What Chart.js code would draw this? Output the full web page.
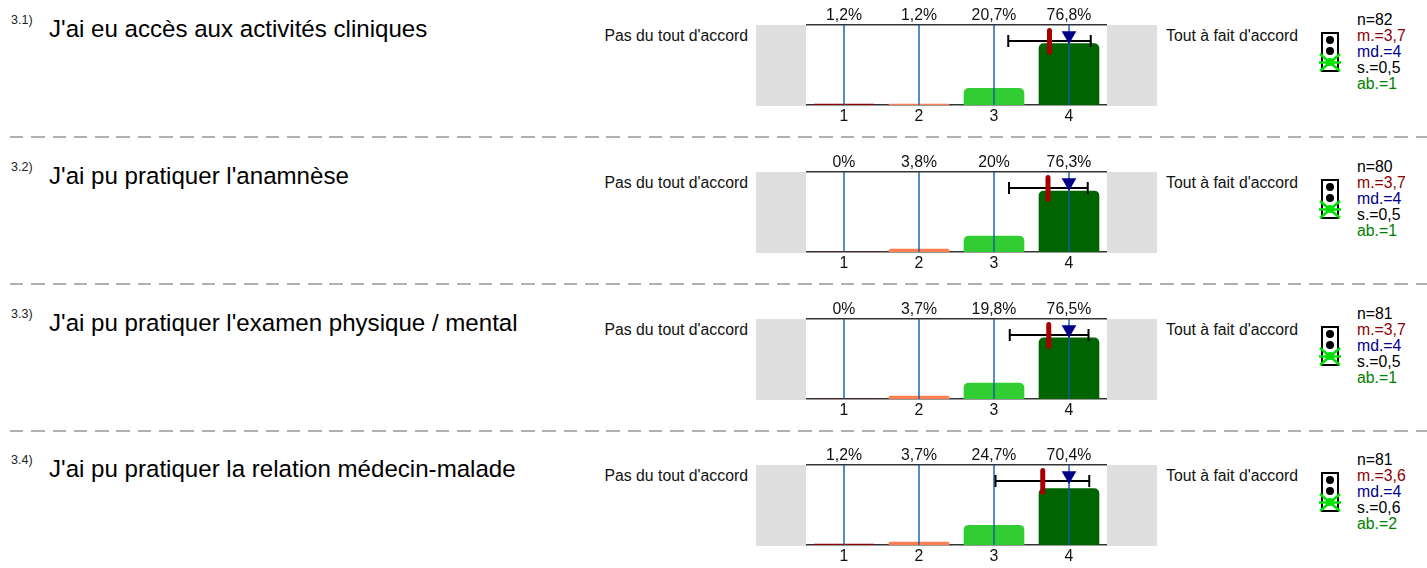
<!DOCTYPE html>
<html>
<head>
<meta charset="utf-8">
<script src="https://cdn.jsdelivr.net/npm/chart.js@4"></script>
<style>
html, body { margin: 0; padding: 0; background: #fff; overflow: hidden; }
body { position: relative; width: 1427px; height: 568px; font-family: "Liberation Sans", Arial, sans-serif; color: #000; }
.abs { position: absolute; white-space: nowrap; }
.band { position: absolute; background: #dfdfdf; width: 50px; height: 81px; }
.sep { position: absolute; left: 10px; right: 0; height: 2px;
  background: repeating-linear-gradient(to right, #b0b0b0 0 13.5px, transparent 13.5px 21.3px); }
.title { font-size: 24.1px; line-height: 28px; left: 49px; }
.num { font-size: 12.5px; line-height: 14px; left: 11px; color: #222; }
.scale { font-size: 15.8px; line-height: 18px; color: #111; }
.stat { font-size: 15.8px; line-height: 16px; left: 1357px; }
canvas { position: absolute; }
</style>
</head>
<body>
<script>
// question texts
const questionNums = ['3.1)', '3.2)', '3.3)', '3.4)'];
const questions = [
    "J'ai eu accès aux activités cliniques",
    "J'ai pu pratiquer l'anamnèse",
    "J'ai pu pratiquer l'examen physique / mental",
    "J'ai pu pratiquer la relation médecin-malade"
];
const leftLabel = "Pas du tout d'accord";
const rightLabel = "Tout à fait d'accord";

// answers
const xTicks = [1, 2, 3, 4];
const percents = [
    [1.2, 1.2, 20.7, 76.8],
    [0, 3.8, 20, 76.3],
    [0, 3.7, 19.8, 76.5],
    [1.2, 3.7, 24.7, 70.4]
];
const barColors = ['#8b0000', '#ff7f50', '#32cd32', '#006400'];

// markers
const meanPos = [3.74, 3.72, 3.73, 3.65];
const whiskerLow = [3.19, 3.2, 3.21, 3.02];
const whiskerHigh = [4.29, 4.25, 4.26, 4.27];
const medians = [4, 4, 4, 4];

// stats column
const nValues = ['82', '80', '81', '81'];
const mValues = ['3,7', '3,7', '3,7', '3,6'];
const mdValues = ['4', '4', '4', '4'];
const sValues = ['0,5', '0,5', '0,5', '0,6'];
const abValues = ['1', '1', '1', '2'];

// y of the top axis line of each row
const rowTops = [25, 172, 319, 465];
const sepTops = [136, 283, 430];

function addText(cls, text, left, top, color) {
    const d = document.createElement('div');
    d.className = 'abs ' + cls;
    d.textContent = text;
    if (left !== null) d.style.left = left + 'px';
    d.style.top = top + 'px';
    if (color) d.style.color = color;
    document.body.appendChild(d);
    return d;
}

function addLight(top) {
    const ns = 'http://www.w3.org/2000/svg';
    const svg = document.createElementNS(ns, 'svg');
    svg.setAttribute('width', 26);
    svg.setAttribute('height', 46);
    svg.style.cssText = 'position:absolute;left:1318px;top:' + top + 'px';
    svg.innerHTML =
        '<rect x="4" y="3" width="16" height="38" fill="#fff" stroke="#000" stroke-width="2"/>' +
        '<circle cx="12" cy="10" r="4" fill="#000"/><circle cx="12" cy="21" r="4" fill="#000"/>' +
        '<circle cx="12" cy="32" r="4" fill="#00e000"/>' +
        '<path d="M2 24 L22 41 M22 24 L2 41 M1 32.5 L23 32.5" stroke="#00e000" stroke-width="2.5" fill="none"/>';
    document.body.appendChild(svg);
}

sepTops.forEach(t => {
    const s = document.createElement('div');
    s.className = 'sep';
    s.style.top = t + 'px';
    document.body.appendChild(s);
});

function percentLabel(v) {
    return String(v).replace('.', ',') + '%';
}

questions.forEach((q, i) => {
    const top = rowTops[i];

    addText('num', questionNums[i], null, top - 12);
    addText('title', q, 49, top - 10);

    const l = addText('scale', leftLabel, null, top + 2);
    l.style.right = (1427 - 748) + 'px';
    addText('scale', rightLabel, 1166, top + 2);

    [756, 1107].forEach(x => {
        const b = document.createElement('div');
        b.className = 'band';
        b.style.left = x + 'px';
        b.style.top = top + 'px';
        document.body.appendChild(b);
    });

    addLight(top + 5);

    addText('stat', 'n=' + nValues[i], 1357, top - 13);
    addText('stat', 'm.=' + mValues[i], 1357, top + 3, '#8b0000');
    addText('stat', 'md.=' + mdValues[i], 1357, top + 19, '#00008b');
    addText('stat', 's.=' + sValues[i], 1357, top + 35);
    addText('stat', 'ab.=' + abValues[i], 1357, top + 51, '#008000');

    const canvas = document.createElement('canvas');
    canvas.style.left = '786px';
    canvas.style.top = (top - 25) + 'px';
    canvas.style.width = '340px';
    canvas.style.height = '130px';
    canvas.width = 340;
    canvas.height = 130;
    document.body.appendChild(canvas);

    new Chart(canvas.getContext('2d'), {
        data: {
            datasets: [
                {
                    type: 'scatter',
                    order: 1,
                    data: [{ x: medians[i], y: 87 }],
                    pointStyle: 'triangle',
                    rotation: 180,
                    pointRadius: 8.5,
                    backgroundColor: '#00008b',
                    borderColor: '#00008b',
                    borderWidth: 0
                },
                {
                    type: 'line',
                    order: 2,
                    data: [{ x: meanPos[i], y: 66 }, { x: meanPos[i], y: 93 }],
                    borderColor: '#a80000',
                    borderWidth: 5,
                    borderCapStyle: 'round',
                    pointRadius: 0
                },
                {
                    type: 'line',
                    order: 3,
                    data: [{ x: whiskerLow[i], y: 80 }, { x: whiskerHigh[i], y: 80 }],
                    borderColor: '#000',
                    borderWidth: 2,
                    pointStyle: 'line',
                    rotation: 90,
                    pointRadius: 6,
                    pointBorderColor: '#000',
                    pointBorderWidth: 2
                },
                {
                    // blue guide lines sit above the bars but under the markers
                    type: 'line',
                    order: 4,
                    data: xTicks.flatMap(t => [{ x: t, y: 0 }, { x: t, y: 100 }, { x: t, y: null }]),
                    borderColor: '#0f5cab',
                    borderWidth: 1.4,
                    pointRadius: 0,
                    spanGaps: false
                },
                {
                    type: 'bar',
                    order: 5,
                    data: xTicks.map((t, k) => ({ x: t, y: percents[i][k] })),
                    backgroundColor: barColors,
                    borderRadius: { topLeft: 5, topRight: 5 },
                    borderSkipped: 'bottom',
                    barThickness: 60
                }
            ]
        },
        options: {
            responsive: false,
            animation: false,
            devicePixelRatio: 1,
            layout: { padding: { left: 20.5, right: 19.5, top: 0, bottom: 0 } },
            plugins: { legend: { display: false }, tooltip: { enabled: false } },
            scales: {
                x: {
                    type: 'linear',
                    position: 'bottom',
                    offset: false,
                    min: 0.5,
                    max: 4.5,
                    afterBuildTicks: s => { s.ticks = xTicks.map(v => ({ value: v })); },
                    afterFit: s => { s.height = 25; },
                    grid: { display: false, drawTicks: false },
                    border: { display: true, color: '#333', width: 1.5 },
                    ticks: {
                        autoSkip: false, maxRotation: 0, padding: 2,
                        color: '#111',
                        font: { family: '"Liberation Sans", Arial, sans-serif', size: 15.8 },
                        callback: v => String(v)
                    }
                },
                top: {
                    type: 'linear',
                    position: 'top',
                    offset: false,
                    min: 0.5,
                    max: 4.5,
                    afterBuildTicks: s => { s.ticks = xTicks.map(v => ({ value: v })); },
                    afterFit: s => { s.height = 25; },
                    grid: { display: false, drawTicks: false },
                    border: { display: true, color: '#333', width: 1.5 },
                    ticks: {
                        autoSkip: false, maxRotation: 0, padding: 0,
                        color: '#111',
                        font: { family: '"Liberation Sans", Arial, sans-serif', size: 15.8 },
                        callback: v => percentLabel(percents[i][xTicks.indexOf(v)])
                    }
                },
                y: {
                    display: false,
                    min: 0,
                    max: 100
                }
            }
        }
    });
});
</script>
</body>
</html>
